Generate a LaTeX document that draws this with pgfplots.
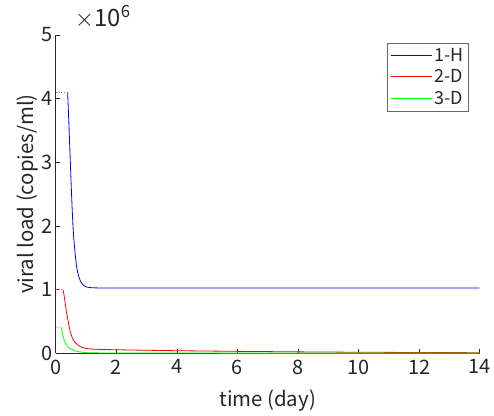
\documentclass[border=0pt]{standalone}
\usepackage{fontspec}
\setmainfont{Noto Sans CJK JP}
\usepackage{pgfplots}
\pgfplotsset{compat=1.18}
\definecolor{axgray}{gray}{0.15}
\definecolor{mblue}{rgb}{0,0,1}
\definecolor{mred}{rgb}{1,0,0}
\definecolor{mgreen}{rgb}{0,1,0}
\begin{document}
\begin{tikzpicture}
\begin{axis}[
  scale only axis,
  width=426pt, height=320pt,
  xmin=0, xmax=14, ymin=0, ymax=5e6,
  axis x line*=bottom, axis y line*=left,
  axis line style={axgray, line width=0.6pt, -},
  xtick={0,2,...,14},
  ytick={0,1e6,2e6,3e6,4e6,5e6},
  yticklabels={0,1,2,3,4,5},
  scaled y ticks=false,
  tick align=inside,
  major tick length=4pt,
  tick style={axgray, line width=0.6pt},
  /pgf/number format/assume math mode=true,
  ticklabel style={font=\fontsize{20}{24}\selectfont, text=axgray},
  xticklabel style={yshift=-3pt},
  xlabel={time (day)},
  ylabel={viral load (copies/ml)},
  label style={font=\fontsize{20.5}{24}\selectfont, text=axgray},
  xlabel style={yshift=-9pt},
  ylabel style={yshift=-4pt},
  legend style={at={(rel axis cs:0.974,0.975)}, anchor=north east, draw=axgray!70, line width=0.6pt,
    font=\fontsize{18}{21}\selectfont, nodes={text=axgray}, inner xsep=3pt, inner ysep=3pt, row sep=3pt},
  legend cell align=left,
  legend image code/.code={\draw[#1, line width=1pt] (0cm,0cm) -- (1.45cm,0cm);},
  clip=false,
]
\addplot[mblue, line width=0.8pt] coordinates {
(0.394,4.1e6) (0.42,3.78e6) (0.44,3.55e6) (0.46,3.28e6) (0.483,3.0e6) (0.51,2.65e6) (0.54,2.3e6) (0.569,2.0e6)
(0.60,1.78e6) (0.64,1.57e6) (0.68,1.39e6) (0.72,1.28e6) (0.77,1.19e6) (0.83,1.12e6) (0.90,1.075e6) (0.97,1.05e6)
(1.05,1.037e6) (1.2,1.028e6) (1.5,1.025e6) (2,1.025e6) (6,1.025e6) (10,1.025e6) (14,1.025e6)};
\addlegendentry{1-H}
\addplot[mred, line width=0.8pt] coordinates {
(0.24,1.0e6) (0.28,0.9e6) (0.32,0.76e6) (0.35,0.66e6) (0.40,0.53e6) (0.44,0.43e6) (0.48,0.34e6) (0.55,0.24e6)
(0.62,0.18e6) (0.73,0.13e6) (0.85,0.095e6) (1.0,0.075e6) (1.2,0.065e6) (1.5,0.06e6) (2,0.055e6) (3,0.047e6)
(4,0.04e6) (6,0.03e6) (8,0.022e6) (10,0.016e6) (12,0.012e6) (14,0.009e6)};
\addlegendentry{2-D}
\addplot[mgreen, line width=0.8pt] coordinates {
(0.19,0.40e6) (0.22,0.31e6) (0.26,0.24e6) (0.30,0.18e6) (0.35,0.135e6) (0.40,0.10e6) (0.46,0.08e6) (0.55,0.055e6)
(0.65,0.035e6) (0.8,0.02e6) (1.0,0.01e6) (1.5,0.005e6) (3,0.003e6) (8,0.002e6) (14,0.002e6)};
\addlegendentry{3-D}
\addplot[mblue!60, dotted, line width=0.8pt, forget plot] coordinates {(0,4.1e6) (0.394,4.1e6)};
\addplot[mred!60, dotted, line width=0.8pt, forget plot] coordinates {(0,1.0e6) (0.24,1.0e6)};
\addplot[mgreen!60, dotted, line width=0.8pt, forget plot] coordinates {(0,0.4e6) (0.19,0.4e6)};
\node[anchor=south west, text=axgray, font=\fontsize{24}{28}\selectfont, inner sep=0pt] at (rel axis cs:0.045,1.02) {$\times$10\textsuperscript{6}};
\end{axis}
\path (-56pt,-63pt) rectangle (438pt,355pt);
\end{tikzpicture}
\end{document}
